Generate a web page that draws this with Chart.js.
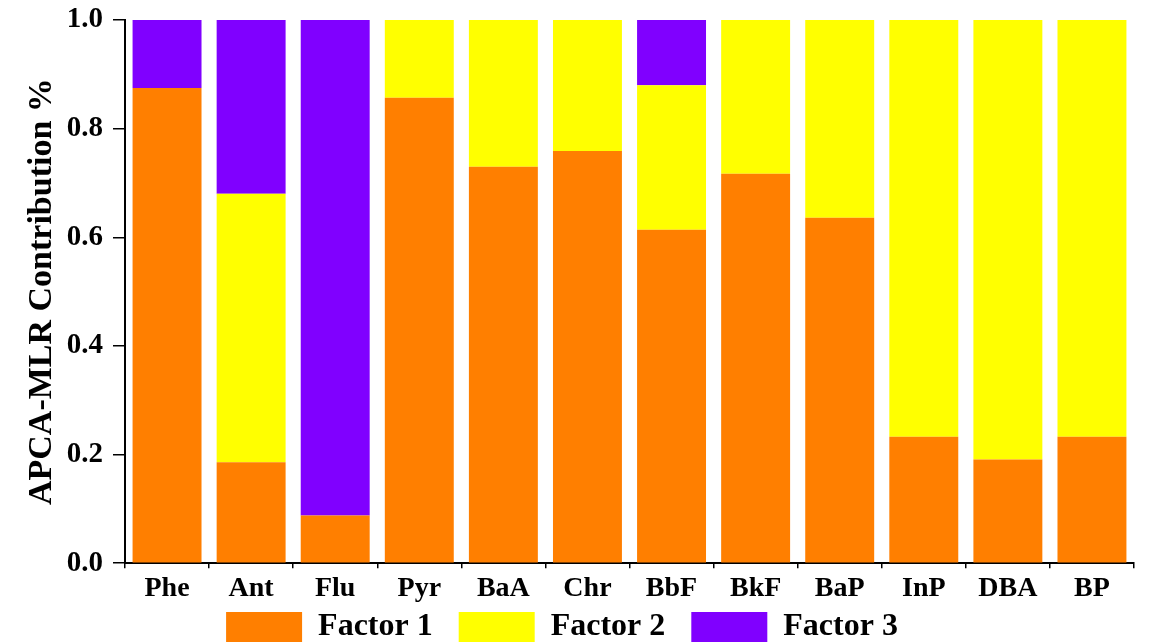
<!DOCTYPE html>
<html>
<head>
<meta charset="utf-8">
<script src="https://cdn.jsdelivr.net/npm/chart.js@4/dist/chart.umd.min.js"></script>
<style>
  html, body { margin: 0; padding: 0; background: #fff; }
  #wrap { width: 1150px; height: 643px; }
</style>
</head>
<body>
<div id="wrap"><canvas id="c" width="1150" height="643"></canvas></div>
<script>
var categories = ['Phe', 'Ant', 'Flu', 'Pyr', 'BaA', 'Chr', 'BbF', 'BkF', 'BaP', 'InP', 'DBA', 'BP'];
var factor1 = [0.875, 0.186, 0.088, 0.857, 0.730, 0.759, 0.614, 0.717, 0.636, 0.233, 0.191, 0.233];
var factor2 = [0, 0.494, 0, 0.143, 0.270, 0.241, 0.266, 0.283, 0.364, 0.767, 0.809, 0.767];
var factor3 = [0.125, 0.320, 0.912, 0, 0, 0, 0.120, 0, 0, 0, 0, 0];
var yTicks = [0, 0.2, 0.4, 0.6, 0.8, 1.0];

var serif = '"Liberation Serif", "Times New Roman", serif';

new Chart(document.getElementById('c').getContext('2d'), {
  type: 'bar',
  data: {
    labels: categories,
    datasets: [
      { label: 'Factor 1', data: factor1, backgroundColor: '#FF7F00' },
      { label: 'Factor 2', data: factor2, backgroundColor: '#FFFF00' },
      { label: 'Factor 3', data: factor3, backgroundColor: '#8000FF' }
    ]
  },
  options: {
    responsive: false,
    animation: false,
    layout: { padding: { top: 20, right: 16, left: 14, bottom: -10 } },
    datasets: { bar: { categoryPercentage: 1.0, barPercentage: 0.82 } },
    plugins: {
      tooltip: { enabled: false },
      legend: {
        position: 'bottom',
        labels: {
          boxWidth: 76,
          boxHeight: 30,
          padding: 2,
          color: '#000',
          font: { family: serif, size: 32, weight: 'bold' },
          generateLabels: function (chart) {
            // extra space after each label so the items sit apart as in the figure
            return Chart.defaults.plugins.legend.labels.generateLabels(chart).map(function (it) {
              it.text = it.text + '   ';
              return it;
            });
          }
        }
      }
    },
    scales: {
      x: {
        stacked: true,
        grid: { display: true, drawOnChartArea: false, drawTicks: true, tickLength: 5, color: '#000', lineWidth: 1.5 },
        border: { display: true, color: '#000', width: 2 },
        ticks: { color: '#000', padding: 5, font: { family: serif, size: 28, weight: 'bold', lineHeight: 1.1 } }
      },
      y: {
        stacked: true,
        min: 0,
        max: 1.0,
        afterFit: function (s) { s.width = 111; s.paddingTop = 0; },
        afterBuildTicks: function (axis) { axis.ticks = yTicks.map(function (v) { return { value: v }; }); },
        grid: { display: true, drawOnChartArea: false, drawTicks: true, tickLength: 12, color: '#000', lineWidth: 1.5 },
        border: { display: true, color: '#000', width: 2 },
        ticks: {
          color: '#000',
          padding: 10,
          font: { family: serif, size: 29, weight: 'bold' },
          callback: function (v) { return Number(v).toFixed(1); }
        },
        title: {
          display: true,
          text: 'APCA-MLR Contribution %',
          color: '#000',
          padding: { top: 8, bottom: 0 },
          font: { family: serif, size: 34, weight: 'bold' }
        }
      }
    }
  }
});
</script>
</body>
</html>
